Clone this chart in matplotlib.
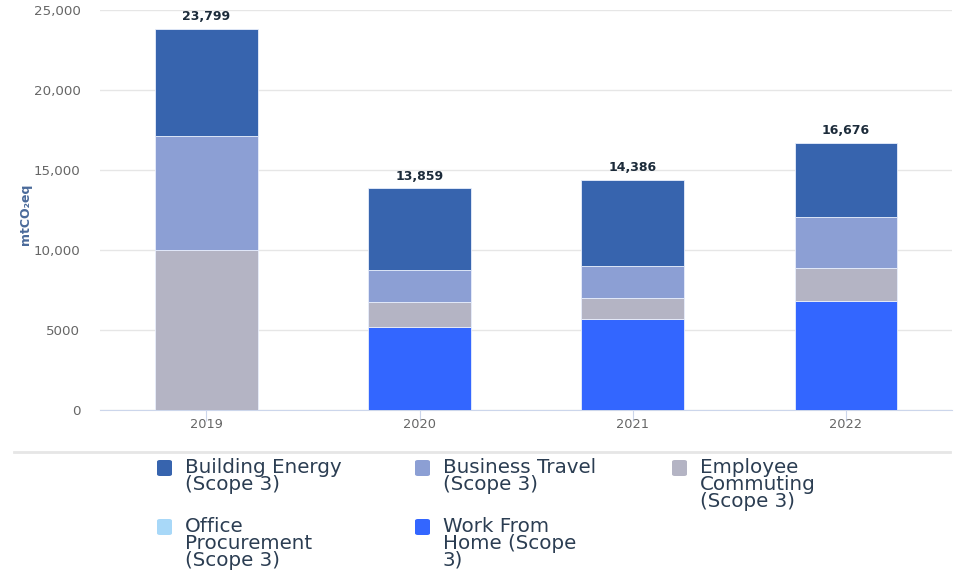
import numpy as np
import matplotlib.pyplot as plt
from matplotlib.patches import FancyBboxPatch
from matplotlib.ticker import FuncFormatter

# Emissions by source and year (mtCO2eq)
years = ['2019', '2020', '2021', '2022']
work_from_home = [0, 5170, 5690, 6835]
office_procurement = [0, 0, 0, 0]
employee_commuting = [10000, 1600, 1330, 2060]
business_travel = [7125, 1980, 1980, 3145]
building_energy = [6674, 5109, 5386, 4636]
totals = [23799, 13859, 14386, 16676]

series = [
    ('Work From\nHome (Scope\n3)', work_from_home, '#3366ff'),
    ('Office\nProcurement\n(Scope 3)', office_procurement, '#a8d8f8'),
    ('Employee\nCommuting\n(Scope 3)', employee_commuting, '#b4b4c4'),
    ('Business Travel\n(Scope 3)', business_travel, '#8c9fd4'),
    ('Building Energy\n(Scope 3)', building_energy, '#3764ae'),
]

fig = plt.figure(figsize=(9.6, 5.75), dpi=100)
ax = fig.add_axes([0.104, 0.287, 0.888, 0.696])

x = np.arange(len(years))
bottom = np.zeros(len(years))
for name, vals, color in series:
    vals = np.array(vals, dtype=float)
    ax.bar(x, vals, width=0.48, bottom=bottom, color=color,
           edgecolor='#e8eefc', linewidth=0.6, zorder=3)
    bottom += vals

for xi, t in zip(x, totals):
    ax.text(xi, t + 350, f'{t:,}', ha='center', va='bottom',
            fontsize=9, fontweight='bold', color='#1c2b3a', zorder=4)

ax.set_xlim(-0.5, 3.5)
ax.set_ylim(0, 25000)
ax.set_yticks(range(0, 25001, 5000))
ax.yaxis.set_major_formatter(FuncFormatter(
    lambda v, p: f'{int(v):,}' if v >= 10000 else f'{int(v)}'))
ax.set_xticks(x)
ax.set_xticklabels(years)
ax.grid(axis='y', color='#e6e6e6', linewidth=1, zorder=0)
for s in ['top', 'right', 'left']:
    ax.spines[s].set_visible(False)
ax.spines['bottom'].set_color('#ccd6eb')
ax.tick_params(axis='y', length=0, labelsize=9.6, labelcolor='#666666', pad=14)
ax.tick_params(axis='x', length=8, color='#ccd6eb', labelsize=9.3,
               labelcolor='#666666', pad=-2)
ax.set_ylabel('mtCO₂eq', fontsize=9, fontweight='bold', color='#4a6a9a')
ax.yaxis.set_label_coords(-0.08, 0.49)

# separator line above the legend
fig.add_artist(plt.Line2D([0.015, 0.99], [1 - 452 / 575] * 2,
                          color='#e6e6e6', linewidth=2))

# legend laid out in three columns
W, H = 960, 575
legend_order = [4, 3, 2, 1, 0]
cols = [157, 415, 672]
rows = [460, 519]
for i, idx in enumerate(legend_order):
    name, _, color = series[idx]
    cx = cols[i % 3]
    cy = rows[i // 3]
    fig.add_artist(FancyBboxPatch((cx / W, 1 - (cy + 16) / H), 15 / W, 16 / H,
                                  boxstyle='round,pad=0,rounding_size=0.003',
                                  transform=fig.transFigure,
                                  facecolor=color, edgecolor='none'))
    fig.text((cx + 28) / W, 1 - (cy - 2) / H, name, ha='left', va='top',
             fontsize=14.3, color='#2b3d52', linespacing=0.86)

fig.savefig('out.png', dpi=100, facecolor='white')
